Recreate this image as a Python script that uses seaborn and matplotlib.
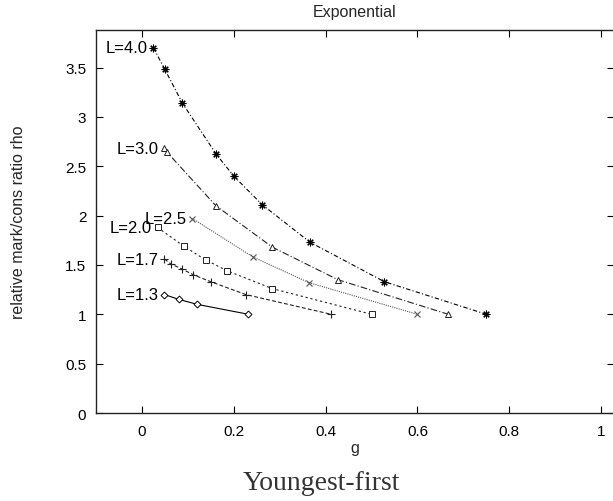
import matplotlib
matplotlib.use("Agg")
import matplotlib.pyplot as plt
import seaborn as sns
import pandas as pd

# ---- data ----
labels = ["L=4.0", "L=3.0", "L=2.5", "L=2.0", "L=1.7", "L=1.3"]

g_40 = [0.025, 0.05, 0.088, 0.162, 0.20, 0.262, 0.366, 0.528, 0.75]
rho_40 = [3.70, 3.48, 3.14, 2.62, 2.40, 2.11, 1.73, 1.33, 1.00]

g_30 = [0.048, 0.055, 0.161, 0.284, 0.427, 0.667]
rho_30 = [2.68, 2.64, 2.10, 1.68, 1.35, 1.00]

g_25 = [0.110, 0.242, 0.364, 0.60]
rho_25 = [1.97, 1.58, 1.32, 1.00]

g_20 = [0.034, 0.091, 0.139, 0.186, 0.284, 0.50]
rho_20 = [1.88, 1.69, 1.55, 1.44, 1.26, 1.00]

g_17 = [0.049, 0.063, 0.087, 0.112, 0.150, 0.226, 0.412]
rho_17 = [1.56, 1.51, 1.46, 1.40, 1.33, 1.20, 1.00]

g_13 = [0.049, 0.081, 0.121, 0.232]
rho_13 = [1.20, 1.15, 1.10, 1.00]

x_ticks = [0, 0.2, 0.4, 0.6, 0.8, 1]
x_tick_labels = ["0", "0.2", "0.4", "0.6", "0.8", "1"]
y_ticks = [0, 0.5, 1, 1.5, 2, 2.5, 3, 3.5]
y_tick_labels = ["0", "0.5", "1", "1.5", "2", "2.5", "3", "3.5"]

series = [
    (labels[0], g_40, rho_40),
    (labels[1], g_30, rho_30),
    (labels[2], g_25, rho_25),
    (labels[3], g_20, rho_20),
    (labels[4], g_17, rho_17),
    (labels[5], g_13, rho_13),
]

# ---- styles ----
styles = {
    "L=4.0": dict(color="black", ls=(0, (4, 2, 1, 2)), marker=(8, 2, 0), ms=5.5, mfc="black", mew=0.8),
    "L=3.0": dict(color="#222222", ls=(0, (6, 2, 1, 2)), marker="^", ms=5, mfc="white", mew=0.7),
    "L=2.5": dict(color="#555555", ls=(0, (1, 1)), marker="x", ms=5, mfc="none", mew=0.8),
    "L=2.0": dict(color="#222222", ls=(0, (2, 2.5)), marker="s", ms=5, mfc="white", mew=0.7),
    "L=1.7": dict(color="#222222", ls=(0, (3.5, 2)), marker="+", ms=6, mfc="none", mew=0.8),
    "L=1.3": dict(color="black", ls="-", marker="D", ms=3.5, mfc="white", mew=0.7),
}

sns.set_theme(style="ticks")
plt.rcParams["font.family"] = ["Liberation Sans", "DejaVu Sans"]

fig = plt.figure(figsize=(6.13, 5.02), dpi=100)
ax = fig.add_axes([96 / 613, 1 - 414 / 502, (614 - 96) / 613, (414 - 31) / 502])

for name, gx, ry in series:
    st = styles[name]
    df = pd.DataFrame({"g": gx, "rho": ry})
    sns.lineplot(data=df, x="g", y="rho", ax=ax, sort=False, estimator=None,
                 color=st["color"], linestyle=st["ls"], linewidth=0.8,
                 marker=st["marker"], markersize=st["ms"],
                 markerfacecolor=st["mfc"], markeredgecolor=st["color"],
                 markeredgewidth=st["mew"])
    ax.annotate(name, xy=(gx[0], ry[0]), xytext=(-4, 0), textcoords="offset points",
                ha="right", va="center", fontsize=12, color="black")

ax.set_xlim(-0.1, 1.028)
ax.set_ylim(0, 3.88)
ax.set_xticks(x_ticks)
ax.set_xticklabels(x_tick_labels)
ax.set_yticks(y_ticks)
ax.set_yticklabels(y_tick_labels)
ax.tick_params(direction="in", length=5, width=0.8, top=True, right=True,
               labelsize=11, colors="black", pad=8)
ax.tick_params(axis="y", pad=7)

for sp in ["left", "bottom", "top"]:
    ax.spines[sp].set_visible(True)
    ax.spines[sp].set_linewidth(1.0)
    ax.spines[sp].set_color("#222222")
ax.spines["right"].set_visible(False)

ax.set_xlabel("g", fontsize=11.5, labelpad=1)
ax.set_ylabel("relative mark/cons ratio rho", fontsize=11.5, labelpad=28)
ax.set_title("Exponential", fontsize=11.5, pad=10)

fig.text(0.524, 0.036, "Youngest-first", ha="center", va="center",
         fontsize=20, color="#333333", family=["Liberation Serif", "DejaVu Serif"])

fig.savefig("out.png", dpi=100)
